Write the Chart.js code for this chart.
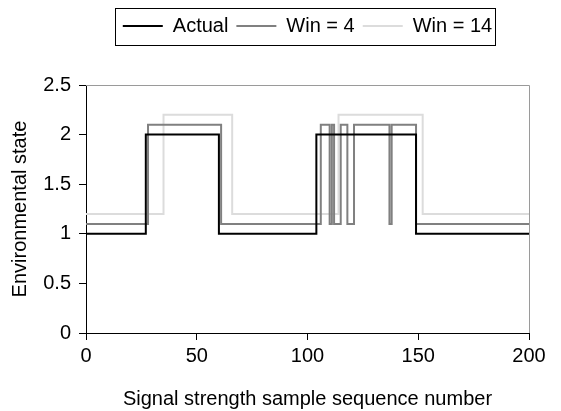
<!DOCTYPE html>
<html>
<head>
<meta charset="utf-8">
<script src="https://cdn.jsdelivr.net/npm/chart.js@4"></script>
<style>
  html, body { margin: 0; padding: 0; background: #fff; }
  #wrap { width: 561px; height: 411px; }
</style>
</head>
<body>
<div id="wrap"><canvas id="stateChart" width="561" height="411"></canvas></div>
<script>
// Values (sample number where the state changes)
var actualX = [0, 27, 60, 104, 149, 200];
var actualY = [1, 2, 1, 2, 1, 1];
var win4X = [0, 28, 61, 106, 110, 111, 112, 115, 118, 121, 137, 138, 149, 200];
var win4Y = [1.1, 2.1, 1.1, 2.1, 1.1, 2.1, 1.1, 2.1, 1.1, 2.1, 1.1, 2.1, 1.1, 1.1];
var win14X = [0, 35, 66, 114, 152, 200];
var win14Y = [1.2, 2.2, 1.2, 2.2, 1.2, 1.2];
var xTicks = [0, 50, 100, 150, 200];
var yTicks = [0, 0.5, 1, 1.5, 2, 2.5];

function pts(xs, ys) {
  return xs.map(function (x, i) { return { x: x, y: ys[i] }; });
}

Chart.defaults.font.family = "'Liberation Sans', Arial, sans-serif";
Chart.defaults.color = "#000";

// push the plot down below the legend and frame the legend
var legendBox = {
  id: "legendBox",
  beforeInit: function (chart) {
    var fit = chart.legend.fit;
    chart.legend.fit = function () {
      fit.call(this);
      this.height += 39;
    };
  },
  afterDraw: function (chart) {
    var boxes = chart.legend.legendHitBoxes;
    if (!boxes || !boxes.length) return;
    var first = boxes[0], last = boxes[boxes.length - 1];
    var ctx = chart.ctx;
    ctx.save();
    ctx.strokeStyle = "#000";
    ctx.lineWidth = 1;
    ctx.strokeRect(Math.round(first.left) - 7.5, 8.5, Math.round(last.left + last.width - first.left) + 11, 37);
    ctx.restore();
  }
};

// gray top and right edges of the plot area
var plotFrame = {
  id: "plotFrame",
  beforeDatasetsDraw: function (chart) {
    var a = chart.chartArea;
    var ctx = chart.ctx;
    ctx.save();
    ctx.strokeStyle = "#9a9a9a";
    ctx.lineWidth = 1;
    ctx.beginPath();
    ctx.moveTo(a.left, a.top + 0.5);
    ctx.lineTo(a.right + 0.5, a.top + 0.5);
    ctx.lineTo(a.right + 0.5, a.bottom);
    ctx.stroke();
    ctx.restore();
  }
};

var ctx = document.getElementById("stateChart").getContext("2d");
var stateChart = new Chart(ctx, {
  type: "line",
  data: {
    datasets: [
      {
        label: "Actual",
        data: pts(actualX, actualY),
        borderColor: "#000000",
        backgroundColor: "#000000",
        borderWidth: 2,
        stepped: "before",
        pointRadius: 0,
        fill: false,
      },
      {
        label: "Win = 4",
        data: pts(win4X, win4Y),
        borderColor: "#808080",
        backgroundColor: "#808080",
        borderWidth: 2,
        stepped: "before",
        pointRadius: 0,
        fill: false,
      },
      {
        label: "Win = 14",
        data: pts(win14X, win14Y),
        borderColor: "#dcdcdc",
        backgroundColor: "#dcdcdc",
        borderWidth: 2,
        stepped: "before",
        pointRadius: 0,
        fill: false,
      },
    ],
  },
  options: {
    responsive: false,
    animation: false,
    layout: { padding: { left: 0, right: 32, top: 8, bottom: 0 } },
    plugins: {
      tooltip: { enabled: false },
      legend: {
        position: "top",
        fullSize: false,
        labels: {
          usePointStyle: true,
          pointStyle: "line",
          pointStyleWidth: 40,
          padding: 8,
          color: "#000",
          font: { size: 20 },
        },
      },
    },
    scales: {
      x: {
        type: "linear",
        min: 0,
        max: 200,
        afterBuildTicks: function (scale) {
          scale.ticks = xTicks.map(function (v) { return { value: v }; });
        },
        afterFit: function (scale) { scale.height = 78; },
        grid: { drawOnChartArea: false, tickLength: 7, color: "#000" },
        border: { color: "#000", width: 1 },
        ticks: {
          font: { size: 20 }, color: "#000", padding: 4, maxRotation: 0,
          callback: function (v) { return String(v); },
        },
        title: {
          display: true,
          text: "Signal strength sample sequence number",
          font: { size: 20 },
          color: "#000",
          padding: { top: 7, bottom: 0 },
        },
      },
      y: {
        min: 0,
        max: 2.5,
        afterBuildTicks: function (scale) {
          scale.ticks = yTicks.map(function (v) { return { value: v }; });
        },
        afterFit: function (scale) { scale.width = 86; },
        grid: { drawOnChartArea: false, tickLength: 7, color: "#000" },
        border: { color: "#000", width: 1 },
        ticks: {
          font: { size: 20 }, color: "#000", padding: 8,
          callback: function (v) { return String(v); },
        },
        title: {
          display: true,
          text: "Environmental state",
          font: { size: 20 },
          color: "#000",
          padding: { top: 8, bottom: 4 },
        },
      },
    },
  },
  plugins: [legendBox, plotFrame],
});
</script>
</body>
</html>
